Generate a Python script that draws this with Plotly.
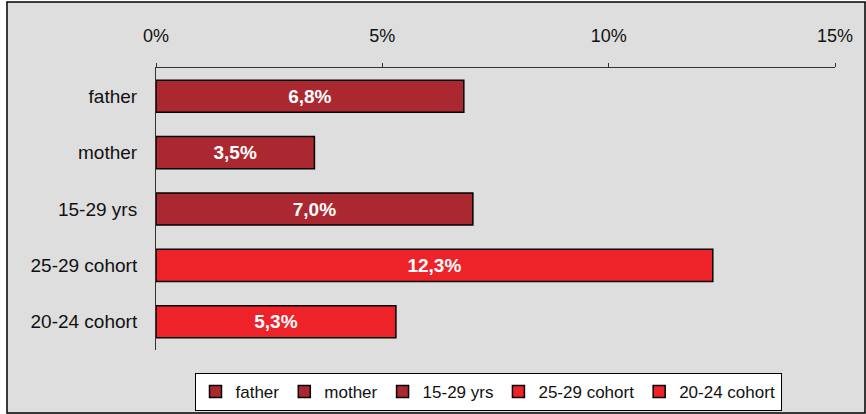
import plotly.graph_objects as go

categories = ["father", "mother", "15-29 yrs", "25-29 cohort", "20-24 cohort"]
values = [6.8, 3.5, 7.0, 12.3, 5.3]
labels = ["6,8%", "3,5%", "7,0%", "12,3%", "5,3%"]
colors = ["#ac2831", "#ac2831", "#ac2831", "#ee2229", "#ee2229"]

W, H = 866, 414
L, R, T, B = 156, 31, 68, 64
pw, ph = W - L - R, H - T - B

fig = go.Figure()
for cat, val, lab, col in zip(categories, values, labels, colors):
    fig.add_trace(go.Bar(
        y=[cat], x=[val], name=cat, orientation="h",
        marker=dict(color=col, line=dict(color="black", width=1.5)),
        text=[lab], textposition="inside", insidetextanchor="middle",
        textfont=dict(color="white", size=19, family="Liberation Sans", weight="bold"),
        width=0.57,
    ))

# outer chart border (white strip outside it, like the original export)
fig.add_shape(type="rect", xref="paper", yref="paper",
              x0=-(L + 10) / pw, x1=(7 - L) / pw, y0=-1, y1=2,
              fillcolor="white", line_width=0, layer="below")
fig.add_shape(type="rect", xref="paper", yref="paper",
              x0=-1, x1=2, y0=((H - B) - 2) / ph, y1=2,
              fillcolor="white", line_width=0, layer="below")
fig.add_shape(type="rect", xref="paper", yref="paper",
              x0=(7 - L) / pw, x1=(865 - L) / pw,
              y0=-(413 - (H - B)) / ph, y1=((H - B) - 2) / ph,
              line=dict(color="black", width=1.5), layer="below")

fig.update_layout(
    width=W, height=H,
    margin=dict(l=L, r=R, t=T, b=B, autoexpand=False),
    paper_bgcolor="#dedede",
    plot_bgcolor="rgba(0,0,0,0)",
    font=dict(family="Liberation Sans, Arial, sans-serif", size=17, color="#111"),
    barmode="overlay",
    showlegend=True,
    legend=dict(orientation="h", x=(488 - L) / pw, xanchor="center",
                y=-(373 - (H - B)) / ph, yanchor="top",
                bgcolor="white", bordercolor="black", borderwidth=1,
                font=dict(size=17), traceorder="normal",
                itemwidth=30, tracegroupgap=0),
    xaxis=dict(side="top", range=[0, 15], tickvals=[0, 5, 10, 15],
               ticktext=["0%", "5%", "10%", "15%"], showgrid=False, zeroline=False,
               showline=True, linecolor="#333", linewidth=1, automargin=False,
               ticks="outside", ticklen=4, tickcolor="#333",
               ticklabelstandoff=14, tickfont=dict(size=18)),
    yaxis=dict(categoryorder="array", categoryarray=categories, autorange="reversed",
               showgrid=False, zeroline=False, showline=True, linecolor="#333",
               linewidth=1, ticks="", ticklabelstandoff=14, automargin=False,
               tickfont=dict(size=19)),
)

fig.write_html("out.html", config={"displayModeBar": False},
               post_script="document.body.style.margin='0';")
